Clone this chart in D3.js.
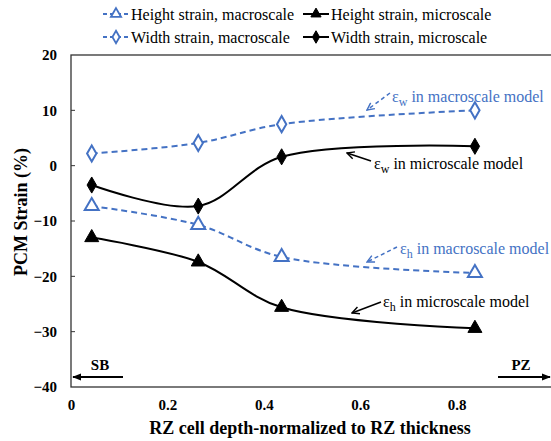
<!DOCTYPE html>
<html>
<head>
<meta charset="utf-8">
<script src="https://cdn.jsdelivr.net/npm/d3@7"></script>
<style>
  body { margin: 0; background: #fff; }
  svg text { font-family: "Liberation Serif", Tinos, "Times New Roman", Times, "DejaVu Serif", serif !important; }
</style>
</head>
<body>
<div id="chart"></div>
<script>
// values
const depth = [0.043, 0.264, 0.437, 0.838];
const heightMacro = [-7.3, -10.7, -16.5, -19.4];
const heightMicro = [-13.0, -17.4, -25.6, -29.4];
const widthMacro = [2.2, 4.1, 7.5, 10.0];
const widthMicro = [-3.5, -7.3, 1.6, 3.5];
const xTicks = [0, 0.2, 0.4, 0.6, 0.8];
const yTicks = [20, 10, 0, -10, -20, -30, -40];

const blue = "#4472c4";
const W = 551, H = 441;
const margin = { top: 55, right: -2, bottom: 54, left: 71 };

const svg = d3.select("#chart")
  .append("svg")
  .attr("width", W)
  .attr("height", H);

const x = d3.scaleLinear().domain([0, 1]).range([margin.left, W - margin.right]);
const y = d3.scaleLinear().domain([-40, 20]).range([H - margin.bottom, margin.top]);

const defs = svg.append("defs");
[["arrBlack", "#000"], ["arrBlue", blue]].forEach(([id, c]) => {
  defs.append("marker")
    .attr("id", id)
    .attr("viewBox", "0 0 10 10")
    .attr("refX", 9).attr("refY", 5)
    .attr("markerWidth", 9).attr("markerHeight", 9)
    .attr("markerUnits", "userSpaceOnUse")
    .attr("orient", "auto")
    .append("path")
    .attr("d", "M1,1 L9,5 L1,9")
    .attr("fill", "none")
    .attr("stroke", c)
    .attr("stroke-width", 1.6);
});
defs.append("marker")
  .attr("id", "arrSolid")
  .attr("viewBox", "0 0 10 10")
  .attr("refX", 9).attr("refY", 5)
  .attr("markerWidth", 9).attr("markerHeight", 9)
  .attr("markerUnits", "userSpaceOnUse")
  .attr("orient", "auto")
  .append("path")
  .attr("d", "M0,1 L10,5 L0,9 Z")
  .attr("fill", "#000");

// plot frame
svg.append("rect")
  .attr("x", x(0)).attr("y", y(20))
  .attr("width", x(1) - x(0)).attr("height", y(-40) - y(20))
  .attr("fill", "none")
  .attr("stroke", "#333")
  .attr("stroke-width", 1.3);

// y axis
svg.append("g")
  .attr("transform", `translate(${x(0)},0)`)
  .call(d3.axisLeft(y).tickValues(yTicks).tickSize(0).tickPadding(14).tickFormat(d3.format("d")))
  .call(g => g.select(".domain").remove())
  .selectAll("text")
  .style("font-weight", "bold")
  .style("font-size", "15px")
  .attr("fill", "#000");

svg.selectAll(".ytick")
  .data(yTicks.slice(1, -1))
  .enter().append("line")
  .attr("x1", x(0)).attr("x2", x(0) + 4)
  .attr("y1", d => y(d)).attr("y2", d => y(d))
  .attr("stroke", "#333");

// x axis
svg.append("g")
  .attr("transform", `translate(0,${y(-40)})`)
  .call(d3.axisBottom(x).tickValues(xTicks).tickSize(0).tickPadding(12).tickFormat(d => d === 0 ? "0" : d3.format(".1f")(d)))
  .call(g => g.select(".domain").remove())
  .selectAll("text")
  .style("font-weight", "bold")
  .style("font-size", "15px")
  .attr("fill", "#000");

svg.append("text")
  .attr("x", 310).attr("y", 434)
  .attr("text-anchor", "middle")
  .style("font-weight", "bold")
  .style("font-size", "18px")
  .text("RZ cell depth-normalized to RZ thickness");

svg.append("text")
  .attr("transform", "translate(27,212) rotate(-90)")
  .attr("text-anchor", "middle")
  .style("font-weight", "bold")
  .style("font-size", "18px")
  .text("PCM Strain (%)");

// series
const series = [
  { name: "Height strain, macroscale", vals: heightMacro, color: blue, dash: "6,4", sym: d3.symbolTriangle, fill: "#fff" },
  { name: "Height strain, microscale", vals: heightMicro, color: "#000", dash: null, sym: d3.symbolTriangle, fill: "#000" },
  { name: "Width strain, macroscale", vals: widthMacro, color: blue, dash: "6,4", sym: d3.symbolDiamond, fill: "#fff" },
  { name: "Width strain, microscale", vals: widthMicro, color: "#000", dash: null, sym: d3.symbolDiamond, fill: "#000" }
];

const line = d3.line()
  .x((d, i) => x(depth[i]))
  .y(d => y(d))
  .curve(d3.curveCatmullRom.alpha(0.5));

series.forEach(s => {
  svg.append("path")
    .attr("d", line(s.vals))
    .attr("fill", "none")
    .attr("stroke", s.color)
    .attr("stroke-width", 2)
    .attr("stroke-dasharray", s.dash);

  svg.selectAll(null)
    .data(s.vals)
    .enter().append("path")
    .attr("transform", (d, i) => `translate(${x(depth[i])},${y(d)})`)
    .attr("d", d3.symbol().type(s.sym).size(s.sym === d3.symbolTriangle ? 85 : 75))
    .attr("fill", s.fill)
    .attr("stroke", s.color)
    .attr("stroke-width", s.fill === "#fff" ? 2 : 1);
});

// legend
const legendPos = [[103, 14], [303, 14], [103, 37], [303, 37]];
series.forEach((s, i) => {
  const [lx, ly] = legendPos[i];
  const g = svg.append("g").attr("transform", `translate(${lx},${ly})`);
  g.append("line")
    .attr("x1", 0).attr("x2", 26)
    .attr("stroke", s.color)
    .attr("stroke-width", 2)
    .attr("stroke-dasharray", s.dash ? "4,3" : null);
  g.append("path")
    .attr("transform", "translate(13,0)")
    .attr("d", d3.symbol().type(s.sym).size(45))
    .attr("fill", s.fill)
    .attr("stroke", s.color)
    .attr("stroke-width", s.fill === "#fff" ? 1.8 : 1);
  g.append("text")
    .attr("x", 28).attr("y", 5.5)
    .style("font-size", "16px")
    .attr("fill", "#000")
    .text(s.name);
});

// annotations
const notes = [
  { sub: "w", label: " in macroscale model", tx: 392, ty: 102, from: [390, 93], to: [367, 110], color: blue, dash: "4,3" },
  { sub: "w", label: " in microscale model", tx: 374, ty: 169, from: [371, 161], to: [347, 153], color: "#000", dash: null },
  { sub: "h", label: " in macroscale model", tx: 400, ty: 254, from: [397, 247], to: [367, 262], color: blue, dash: "4,3" },
  { sub: "h", label: " in microscale model", tx: 383, ty: 307, from: [381, 302], to: [352, 313], color: "#000", dash: null }
];

notes.forEach(n => {
  svg.append("line")
    .attr("x1", n.from[0]).attr("y1", n.from[1])
    .attr("x2", n.to[0]).attr("y2", n.to[1])
    .attr("stroke", n.color)
    .attr("stroke-width", 1.5)
    .attr("stroke-dasharray", n.dash)
    .attr("marker-end", n.color === blue ? "url(#arrBlue)" : "url(#arrBlack)");
  const t = svg.append("text")
    .attr("x", n.tx).attr("y", n.ty)
    .attr("fill", n.color)
    .style("font-size", "16px");
  t.append("tspan").text("ε");
  t.append("tspan").attr("dy", 4).style("font-size", "12px").text(n.sub);
  t.append("tspan").attr("dy", -4).text(n.label);
});

// SB / PZ markers
svg.append("text")
  .attr("x", 100).attr("y", 370)
  .attr("text-anchor", "middle")
  .style("font-weight", "bold")
  .style("font-size", "15px")
  .text("SB");
svg.append("line")
  .attr("x1", 123).attr("x2", 73)
  .attr("y1", 377).attr("y2", 377)
  .attr("stroke", "#000").attr("stroke-width", 2)
  .attr("marker-end", "url(#arrSolid)");

svg.append("text")
  .attr("x", 521).attr("y", 370)
  .attr("text-anchor", "middle")
  .style("font-weight", "bold")
  .style("font-size", "15px")
  .text("PZ");
svg.append("line")
  .attr("x1", 498).attr("x2", 550)
  .attr("y1", 377).attr("y2", 377)
  .attr("stroke", "#000").attr("stroke-width", 2)
  .attr("marker-end", "url(#arrSolid)");
</script>
</body>
</html>
